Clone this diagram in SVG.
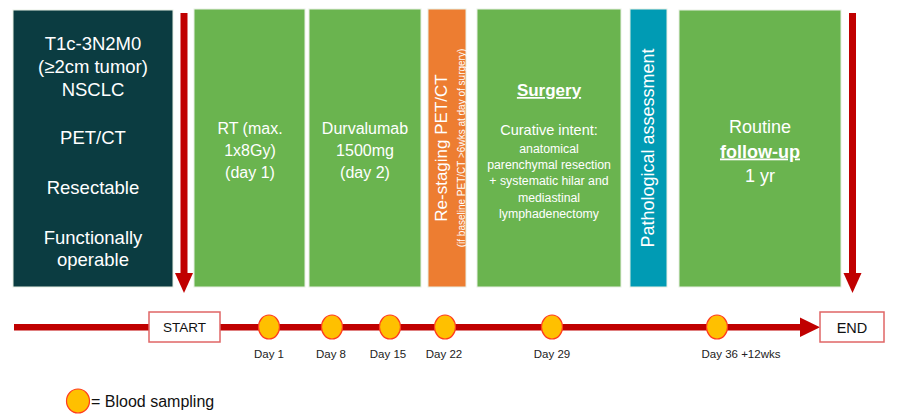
<svg xmlns="http://www.w3.org/2000/svg" width="908" height="416" viewBox="0 0 908 416">
<style>
text{font-family:"Liberation Sans",Arial,sans-serif}
.w{fill:#fff;text-anchor:middle}
.d{fill:#222;text-anchor:middle;font-size:11.5px}
.box{stroke:#e8efe4;stroke-width:1}
.g{fill:#6AB44F}
.dot{fill:#FFC000;stroke:#FF3B1F;stroke-width:1.2}
.lbl{fill:#fff;stroke:#E06666;stroke-width:1.5}
</style>
<rect width="908" height="416" fill="#fff"/>
<g id="criteria">
<rect x="13" y="10" width="160" height="277" fill="#0B3C41" class="box"/>
<g class="w" font-size="18.5">
<text x="93" y="49.5">T1c-3N2M0</text>
<text x="93" y="72.5">(≥2cm tumor)</text>
<text x="93" y="95.5">NSCLC</text>
<text x="93" y="143.5">PET/CT</text>
<text x="93" y="193.5">Resectable</text>
<text x="93" y="243.5">Functionally</text>
<text x="93" y="265.5">operable</text>
</g>
</g>
<g id="rt">
<rect x="194" y="9" width="111" height="278" class="g box"/>
<g class="w" font-size="16">
<text x="250" y="134">RT (max.</text>
<text x="250" y="156">1x8Gy)</text>
<text x="250" y="178">(day 1)</text>
</g>
</g>
<g id="durvalumab">
<rect x="309" y="9" width="112" height="278" class="g box"/>
<g class="w" font-size="16">
<text x="365" y="134">Durvalumab</text>
<text x="365" y="156">1500mg</text>
<text x="365" y="178">(day 2)</text>
</g>
</g>
<g id="restaging">
<rect x="428" y="9" width="38" height="278" fill="#ED7D31" class="box"/>
<text class="w" font-size="17" transform="rotate(-90 447 148)" x="447" y="148">Re-staging PET/CT</text>
<text class="w" font-size="10" transform="rotate(-90 465 148)" x="465" y="148">(if baseline PET/CT &gt;6wks at day of surgery)</text>
</g>
<g id="surgery">
<rect x="477" y="9" width="144" height="278" class="g box"/>
<text class="w" font-size="17" font-weight="bold" text-decoration="underline" x="549" y="96">Surgery</text>
<text class="w" font-size="14.5" x="549" y="135">Curative intent:</text>
<g class="w" font-size="12.3">
<text x="549" y="152.5">anatomical</text>
<text x="549" y="168.5">parenchymal resection</text>
<text x="549" y="184.5">+ systematic hilar and</text>
<text x="549" y="201.5">mediastinal</text>
<text x="549" y="217.5">lymphadenectomy</text>
</g>
</g>
<g id="pathology">
<rect x="630" y="9" width="37" height="278" fill="#009BB4" class="box"/>
<text class="w" font-size="18" transform="rotate(-90 654 148)" x="654" y="148">Pathological assessment</text>
</g>
<g id="followup">
<rect x="679" y="10" width="162" height="277" class="g box"/>
<g class="w" font-size="18">
<text x="760" y="132.5">Routine</text>
<text x="760" y="157.5" font-weight="bold" text-decoration="underline">follow-up</text>
<text x="760" y="181.5">1 yr</text>
</g>
</g>
<g id="connectors" fill="#C00000">
<rect x="180.5" y="13" width="7" height="261"/>
<polygon points="175,273 193,273 184,293"/>
<rect x="849" y="13" width="7" height="261"/>
<polygon points="843.5,273 861.5,273 852.5,293"/>
<rect x="14" y="324" width="788" height="6.5"/>
<polygon points="800,317.5 820,327.2 800,337"/>
</g>
<g id="start">
<rect x="149" y="312" width="71" height="30" class="lbl"/>
<text x="184.5" y="332" font-size="13.5" fill="#111" text-anchor="middle">START</text>
</g>
<g id="end">
<rect x="820" y="312" width="64" height="30" class="lbl"/>
<text x="852" y="332.5" font-size="14.5" fill="#111" text-anchor="middle">END</text>
</g>
<g id="samples">
<ellipse cx="269" cy="327" rx="10.5" ry="12" class="dot"/>
<ellipse cx="332" cy="327" rx="10.5" ry="12" class="dot"/>
<ellipse cx="390" cy="327" rx="10.5" ry="12" class="dot"/>
<ellipse cx="445" cy="327" rx="10.5" ry="12" class="dot"/>
<ellipse cx="552" cy="327" rx="10.5" ry="12" class="dot"/>
<ellipse cx="717" cy="327" rx="10.5" ry="12" class="dot"/>
<text class="d" x="269" y="358">Day 1</text>
<text class="d" x="331" y="358">Day 8</text>
<text class="d" x="388" y="358">Day 15</text>
<text class="d" x="444" y="358">Day 22</text>
<text class="d" x="552" y="358">Day 29</text>
<text class="d" x="741" y="358">Day 36 +12wks</text>
</g>
<g id="legend">
<ellipse cx="78" cy="401" rx="11.5" ry="12" class="dot"/>
<text x="91" y="406.5" font-size="16" fill="#111">= Blood sampling</text>
</g>
</svg>
